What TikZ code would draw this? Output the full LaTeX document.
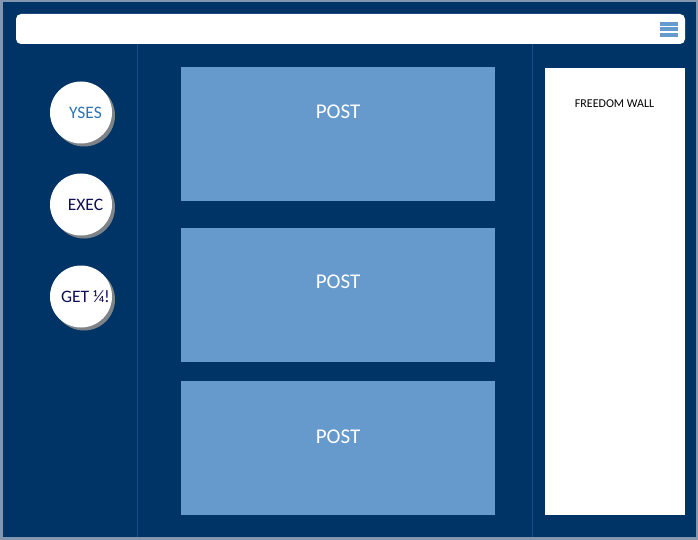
\documentclass[tikz,border=0pt]{standalone}
\usepackage{fontspec}
\setmainfont{Carlito}
\usetikzlibrary{calc}
\usetikzlibrary{shadows}

\definecolor{navy}{RGB}{0,51,102}
\definecolor{postblue}{RGB}{102,153,204}
\definecolor{rim}{RGB}{132,151,176}
\definecolor{sepline}{RGB}{28,78,134}
\definecolor{ysesblue}{RGB}{46,117,182}
\definecolor{darknavy}{RGB}{16,16,86}

\begin{document}
\begin{tikzpicture}[x=1pt,y=-1pt,
    post/.style={rectangle,fill=postblue,inner sep=0pt,anchor=north west,
        minimum width=314pt,minimum height=134pt},
    posttext/.style={text=white,font=\fontsize{21}{25}\selectfont},
    button/.style={circle,fill=white,inner sep=0pt,minimum size=62pt,
        drop shadow={shadow xshift=3pt,shadow yshift=-3pt,fill=black!45,opacity=.9}},
    buttontext/.style={font=\fontsize{17.5}{20}\selectfont}]
\useasboundingbox (0,0) rectangle (698,540);
\coordinate (a) at (0,0);
\coordinate (b) at (698,540);
\coordinate (c) at (3,2);
\coordinate (d) at (696,537);
\coordinate (e) at (16,14);
\coordinate (f) at (685,44);
\coordinate (g) at (137.5,44);
\coordinate (h) at (137.5,537);
\coordinate (i) at (532.5,44);
\coordinate (j) at (532.5,537);
\coordinate (k) at (545,68);
\coordinate (l) at (685,515);

\newcommand{\drawframe}{
    \fill[rim] (a) rectangle (b);
    \fill[navy] (c) rectangle (d);
    \fill[white,rounded corners=5pt] (e) rectangle (f);
    \draw[sepline,thin] (g)--(h);
    \draw[sepline,thin] (i)--(j);
}

\newcommand{\menubar}[1]{
    \fill[postblue] (660,#1) rectangle (678,#1+4);
}

\newcommand{\drawbutton}[4]{
    \node[button] (#1) at (81,#2) {};
    \node[buttontext,text=#3] (#1text) at (85.5,#2) {#4};
}

\newcommand{\drawpost}[3]{
    \node[post] (#1) at (181,#2) {};
    \node[posttext] (#1text) at (338,#3) {POST};
}

\newcommand{\drawwall}{
    \fill[white] (k) rectangle (l);
    \node[font=\fontsize{12}{14}\selectfont] (wall) at (614.5,104) {FREEDOM WALL};
}

    \drawframe
    \menubar{22}
    \menubar{27.5}
    \menubar{33}

    \drawbutton{yses}{112.5}{ysesblue}{YSES}
    \drawbutton{exec}{204.5}{darknavy}{EXEC}
    \drawbutton{get}{296.5}{darknavy}{GET ¼!}

    \drawpost{posta}{67}{112}
    \drawpost{postb}{228}{282}
    \drawpost{postc}{381}{436.5}

    \drawwall
\end{tikzpicture}
\end{document}
